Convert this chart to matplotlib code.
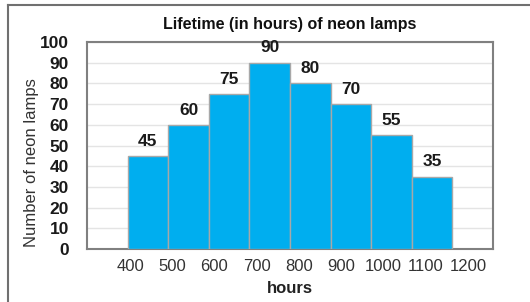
import matplotlib
matplotlib.use("Agg")
import matplotlib.pyplot as plt
from matplotlib.lines import Line2D

# Data
bin_edges = [400, 500, 600, 700, 800, 900, 1000, 1100, 1200]
counts = [45, 60, 75, 90, 80, 70, 55, 35]
title = "Lifetime (in hours) of neon lamps"
xlabel = "hours"
ylabel = "Number of neon lamps"
yticks = list(range(0, 101, 10))

plt.rcParams['font.family'] = ['Liberation Sans', 'DejaVu Sans']

fig = plt.figure(figsize=(5.30, 3.02), dpi=100)
ax = fig.add_axes([87/530, 1-249/302, (493-87)/530, (249-42)/302])

# positions: one empty slot left and right of bars
lefts = [i + 1 for i in range(len(counts))]
bars = ax.bar(lefts, counts, width=1.0, align='edge', color='#00AEEF',
              edgecolor='#a8a8a8', linewidth=1.0, zorder=3)
for b, v in zip(bars, counts):
    ax.text(b.get_x() + b.get_width()/2, v + 3.5, str(v), ha='center', va='bottom',
            fontsize=12.5, fontweight='bold', color='#1a1a1a')

ax.set_xlim(0, len(counts) + 2)
ax.set_ylim(0, 100)
ax.set_yticks(yticks)
ax.set_yticklabels([str(t) for t in yticks], fontsize=12.5, fontweight='bold', color='#1a1a1a')
# tick labels in the original are spread slightly wider than the bin edges
label_step = 1.04
ax.set_xticks([1.06 + i * label_step for i in range(len(bin_edges))])
ax.set_xticklabels([str(e) for e in bin_edges], fontsize=12, color='#333333')
ax.tick_params(axis='both', length=0)
ax.tick_params(axis='y', pad=13)
ax.tick_params(axis='x', pad=7)
ax.grid(axis='y', color='#e4e4e4', linewidth=1.0, zorder=0)
ax.set_axisbelow(True)
for s in ax.spines.values():
    s.set_color('#808080')
    s.set_linewidth(1.5)

ax.set_title(title, fontsize=11.5, fontweight='bold', color='#111111', pad=9)
ax.set_xlabel(xlabel, fontsize=12, fontweight='bold', color='#222222', labelpad=5)
fig.text(32/530, 1-163/302, ylabel, rotation=90, ha='center', va='center',
         fontsize=12, color='#333333')

# outer frame
fig.add_artist(Line2D([7.5/530, 7.5/530], [0, 1-4.5/302], transform=fig.transFigure,
                      color='#707070', linewidth=1.5))
fig.add_artist(Line2D([7.5/530, 1], [1-4.5/302, 1-4.5/302], transform=fig.transFigure,
                      color='#707070', linewidth=1.5))

fig.savefig("out.png", dpi=100)
